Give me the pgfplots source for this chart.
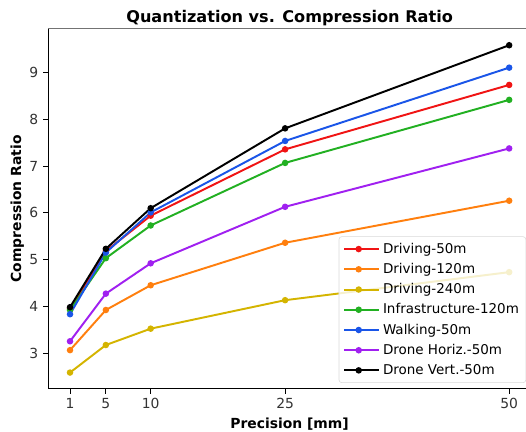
\documentclass[border=0pt]{standalone}
\usepackage{pgfplots}
\pgfplotsset{compat=1.18}
\usepackage{fontspec}
\setmainfont{DejaVu Sans}

\definecolor{cred}{HTML}{F01414}
\definecolor{corange}{HTML}{FF7F0E}
\definecolor{cyellow}{HTML}{D4B400}
\definecolor{cgreen}{HTML}{22B022}
\definecolor{cblue}{HTML}{1A55E8}
\definecolor{cpurple}{HTML}{A020F0}

\begin{document}
\begin{tikzpicture}
\useasboundingbox (0,0) rectangle (378.7pt,311pt);
\begin{axis}[
    at={(34.6pt,31pt)}, anchor=south west,
    scale only axis,
    width=347.8pt, height=259.2pt,
    xmin=-1.45, xmax=52.45,
    ymin=2.23, ymax=9.94,
    xtick={1,5,10,25,50},
    ytick={3,4,5,6,7,8,9},
    xtick pos=bottom, ytick pos=left,
    tick align=outside,
    major tick length=3.5pt,
    tick style={black, line width=0.6pt},
    axis line style={line width=0.6pt},
    separate axis lines,
    x axis line style={black},
    y axis line style={black},
    /pgf/number format/assume math mode=true,
    tick label style={font=\fontsize{10}{12}\selectfont, text=black!80},
    title={\textbf{Quantization vs. Compression Ratio}},
    title style={font=\fontsize{11.6}{14}\selectfont, yshift=-7pt},
    xlabel={\textbf{Precision [mm]}},
    ylabel={\textbf{Compression Ratio}},
    label style={font=\fontsize{10}{12}\selectfont},
    xlabel style={yshift=0.5pt},
    ylabel style={yshift=-3pt},
    every axis plot/.append style={line width=1.4pt, mark=*, mark size=1.6pt},
    legend style={
        at={(1,0)}, anchor=south east,
        xshift=-3.6pt, yshift=4.3pt,
        fill=white, fill opacity=0.8, text opacity=1,
        draw=black!15, rounded corners=2pt,
        font=\fontsize{9.7}{12}\selectfont,
        row sep=1.7pt,
        inner xsep=3pt, inner ysep=2.5pt,
    },
    legend cell align=left,
    legend image code/.code={
        \path (0pt,0pt) -- (25.3pt,0pt);
        \draw[#1, mark=none] (0pt,0pt) -- (21pt,0pt);
        \fill[#1] (10.5pt,0pt) circle (1.6pt);
    },
    after end axis/.append code={
        \draw[black!55, line width=0.6pt] (rel axis cs:0,1) -- (rel axis cs:1,1);
    },
]
\addplot[cred] coordinates {(1,3.95) (5,5.18) (10,5.94) (25,7.36) (50,8.74)};
\addlegendentry{Driving-50m}
\addplot[corange] coordinates {(1,3.06) (5,3.92) (10,4.45) (25,5.36) (50,6.26)};
\addlegendentry{Driving-120m}
\addplot[cyellow] coordinates {(1,2.58) (5,3.17) (10,3.52) (25,4.13) (50,4.73)};
\addlegendentry{Driving-240m}
\addplot[cgreen] coordinates {(1,3.92) (5,5.03) (10,5.73) (25,7.07) (50,8.42)};
\addlegendentry{Infrastructure-120m}
\addplot[cblue] coordinates {(1,3.83) (5,5.15) (10,6.01) (25,7.54) (50,9.11)};
\addlegendentry{Walking-50m}
\addplot[cpurple] coordinates {(1,3.25) (5,4.27) (10,4.92) (25,6.13) (50,7.38)};
\addlegendentry{Drone Horiz.-50m}
\addplot[black] coordinates {(1,3.98) (5,5.23) (10,6.10) (25,7.81) (50,9.59)};
\addlegendentry{Drone Vert.-50m}
\end{axis}
\end{tikzpicture}
\end{document}
